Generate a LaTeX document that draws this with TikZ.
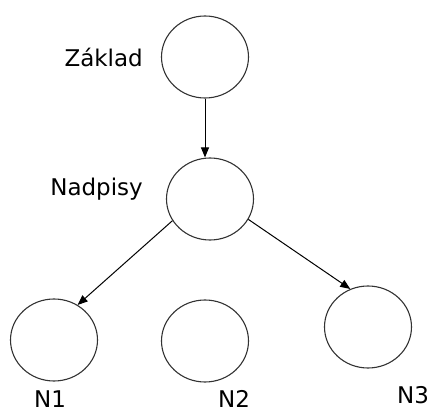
\documentclass[tikz,border=0pt]{standalone}
\usepackage{fontspec}
\setmainfont{DejaVu Sans}
\usetikzlibrary{arrows.meta,shapes.geometric}
\begin{document}
\begin{tikzpicture}[x=1pt,y=-1pt,
  state/.style={draw=black!80,line width=1.1pt,ellipse,minimum width=87pt,minimum height=82pt,inner sep=0pt},
  lbl/.style={font=\fontsize{23}{26}\selectfont,inner sep=0pt},
  link/.style={draw,line width=1pt,-{Triangle[length=10pt,width=8pt]}}]
\useasboundingbox (0,0) rectangle (432,414);
\node[state] (zaklad) at (205,57) {};
\node[state] (nadpisy) at (210,199) {};
\node[state] (n1) at (54,340) {};
\node[state] (n2) at (205,341) {};
\node[state] (n3) at (368,327) {};
\node[lbl,anchor=base east] (lz) at (143,67) {Základ};
\node[lbl,anchor=base east] (ln) at (143,196) {Nadpisy};
\node[lbl,anchor=base] (l1) at (50,408) {N1};
\node[lbl,anchor=base] (l2) at (234,408) {N2};
\node[lbl,anchor=base] (l3) at (413,404) {N3};
\draw[link] (zaklad.south) -- (zaklad.south |- nadpisy.north);
\draw[link] (nadpisy.210) -- (n1.56);
\draw[link] (nadpisy.332) -- (n3.115);
\end{tikzpicture}
\end{document}
